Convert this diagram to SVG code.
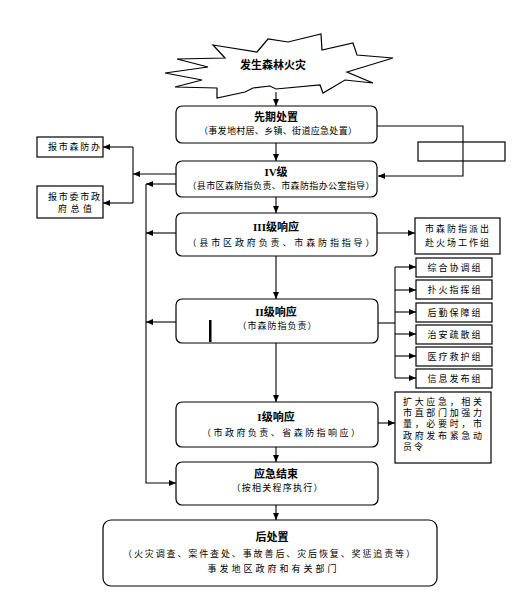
<svg xmlns="http://www.w3.org/2000/svg" width="522" height="609" viewBox="0 0 522 609">
<defs>
<marker id="ah" markerWidth="7" markerHeight="6" refX="7" refY="3" orient="auto" markerUnits="userSpaceOnUse">
<path d="M0,0 L7,3 L0,6 Z" fill="#000"/>
</marker>
<style>
.rb{fill:#fff;stroke:#000;stroke-width:1.2}
.sb{fill:#fff;stroke:#000;stroke-width:1.2}
.t{font-family:"Liberation Serif","Noto Sans CJK SC",serif;font-size:11px;font-weight:bold;text-anchor:middle;fill:#000}
.s{font-family:"Liberation Sans","Noto Sans CJK SC",sans-serif;font-size:9px;text-anchor:middle;fill:#000}
.l{font-family:"Liberation Sans","Noto Sans CJK SC",sans-serif;font-size:9px;fill:#000}
.c{fill:none;stroke:#000;stroke-width:1.1}
</style>
</defs>
<rect width="522" height="609" fill="#fff"/>

<g id="fire">
<polygon class="sb" points="177,59 208,67 165,73 202,80 175,87 217,88 217,98 245,92 253,88 270,86 276,89 320,85 323,93 345,80 373,83 347,72 393,58 357,55 353,43 322,50 321,34 288,42 268,39 257,52 213,45 225,58"/>
<text class="t" x="273" y="69">发生森林火灾</text>
</g>

<g id="xianqi">
<rect class="rb" x="176" y="106" width="201" height="37" rx="6"/>
<text class="t" x="276" y="121">先期处置</text>
<text class="s" x="278" y="134" textLength="158" lengthAdjust="spacing">（事发地村居、乡镇、街道应急处置）</text>
</g>

<g id="blank">
<rect class="sb" x="418" y="142" width="87" height="19"/>
</g>

<g id="iv">
<rect class="rb" x="176" y="161" width="201" height="36" rx="6"/>
<text class="t" x="276" y="176">IV级</text>
<text class="s" x="281" y="189" textLength="187" lengthAdjust="spacing">（县市区森防指负责、市森防指办公室指导）</text>
</g>

<g id="baofangban">
<rect class="sb" x="37" y="137" width="66" height="20"/>
<text class="s" x="74" y="150" textLength="52" lengthAdjust="spacing">报市森防办</text>
</g>

<g id="baozhizhi">
<rect class="sb" x="37" y="186" width="66" height="32"/>
<text class="s" x="74" y="200" textLength="52" lengthAdjust="spacing">报市委市政</text>
<text class="s" x="75" y="212" textLength="34" lengthAdjust="spacing">府总值</text>
</g>

<g id="iii">
<rect class="rb" x="176" y="213" width="201" height="43" rx="6"/>
<text class="t" x="276" y="231">III级响应</text>
<text class="s" x="281" y="246" textLength="187" lengthAdjust="spacing">（县市区政府负责、市森防指指导）</text>
</g>

<g id="gongzuozu">
<rect class="sb" x="415" y="218" width="85" height="36"/>
<text class="s" x="457" y="232" textLength="64" lengthAdjust="spacing">市森防指派出</text>
<text class="s" x="457" y="246" textLength="64" lengthAdjust="spacing">赴火场工作组</text>
</g>

<g id="g1"><rect class="sb" x="416" y="258" width="76" height="19"/><text class="s" x="454" y="271" textLength="53" lengthAdjust="spacing">综合协调组</text></g>
<g id="g2"><rect class="sb" x="416" y="280" width="76" height="19"/><text class="s" x="454" y="293" textLength="53" lengthAdjust="spacing">扑火指挥组</text></g>
<g id="g3"><rect class="sb" x="416" y="303" width="76" height="19"/><text class="s" x="454" y="316" textLength="53" lengthAdjust="spacing">后勤保障组</text></g>
<g id="g4"><rect class="sb" x="416" y="325" width="76" height="19"/><text class="s" x="454" y="338" textLength="53" lengthAdjust="spacing">治安疏散组</text></g>
<g id="g5"><rect class="sb" x="416" y="347" width="76" height="19"/><text class="s" x="454" y="360" textLength="53" lengthAdjust="spacing">医疗救护组</text></g>
<g id="g6"><rect class="sb" x="416" y="369" width="76" height="19"/><text class="s" x="454" y="382" textLength="53" lengthAdjust="spacing">信息发布组</text></g>

<g id="ii">
<rect class="rb" x="176" y="299" width="202" height="44" rx="6"/>
<text class="t" x="276" y="316">II级响应</text>
<text class="s" x="277" y="329" textLength="79" lengthAdjust="spacing">（市森防指负责）</text>
<rect x="209" y="320" width="2.5" height="22" fill="#000"/>
</g>

<g id="i">
<rect class="rb" x="176" y="402" width="202" height="45" rx="6"/>
<text class="t" x="276" y="421">I级响应</text>
<text class="s" x="281" y="436" textLength="158" lengthAdjust="spacing">（市政府负责、省森防指响应）</text>
</g>

<g id="kuoda">
<rect class="sb" x="395" y="392" width="96" height="71"/>
<text class="l" x="403" y="405" textLength="79" lengthAdjust="spacing">扩大应急，相关</text>
<text class="l" x="403" y="416" textLength="79" lengthAdjust="spacing">市直部门加强力</text>
<text class="l" x="403" y="427" textLength="79" lengthAdjust="spacing">量，必要时，市</text>
<text class="l" x="403" y="439" textLength="79" lengthAdjust="spacing">政府发布紧急动</text>
<text class="l" x="403" y="450" textLength="20" lengthAdjust="spacing">员令</text>
</g>

<g id="jieshu">
<rect class="rb" x="176" y="462" width="202" height="43" rx="6"/>
<text class="t" x="276" y="478">应急结束</text>
<text class="s" x="277" y="491" textLength="91" lengthAdjust="spacing">（按相关程序执行）</text>
</g>

<g id="houchuzhi">
<rect class="rb" x="103" y="520" width="334" height="66" rx="8"/>
<text class="t" x="272" y="541">后处置</text>
<text class="s" x="269" y="557" textLength="292" lengthAdjust="spacing">（火灾调查、案件查处、事故善后、灾后恢复、奖惩追责等）</text>
<text class="s" x="272" y="572" textLength="129" lengthAdjust="spacing">事发地区政府和有关部门</text>
</g>

<g id="connectors">
<line class="c" x1="276" y1="92" x2="276" y2="106" marker-end="url(#ah)"/>
<line class="c" x1="276" y1="143" x2="276" y2="161" marker-end="url(#ah)"/>
<line class="c" x1="276" y1="197" x2="276" y2="213" marker-end="url(#ah)"/>
<line class="c" x1="276" y1="256" x2="276" y2="299" marker-end="url(#ah)"/>
<line class="c" x1="276" y1="343" x2="276" y2="402" marker-end="url(#ah)"/>
<line class="c" x1="276" y1="447" x2="276" y2="462" marker-end="url(#ah)"/>
<line class="c" x1="276" y1="505" x2="276" y2="520" marker-end="url(#ah)"/>
<polyline class="c" points="377,126 463,126 463,176 378,176" marker-end="url(#ah)"/>
<line class="c" x1="176" y1="174" x2="133" y2="174" marker-end="url(#ah)"/>
<line class="c" x1="133" y1="147" x2="133" y2="203"/>
<line class="c" x1="133" y1="147" x2="103" y2="147" marker-end="url(#ah)"/>
<line class="c" x1="133" y1="203" x2="103" y2="203" marker-end="url(#ah)"/>
<line class="c" x1="176" y1="184" x2="146" y2="184" marker-end="url(#ah)"/>
<line class="c" x1="176" y1="233" x2="146" y2="233" marker-end="url(#ah)"/>
<line class="c" x1="176" y1="322" x2="146" y2="322" marker-end="url(#ah)"/>
<polyline class="c" points="146,184 146,483 176,483" marker-end="url(#ah)"/>
<line class="c" x1="377" y1="233" x2="415" y2="233" marker-end="url(#ah)"/>
<line class="c" x1="378" y1="323" x2="395" y2="323"/>
<line class="c" x1="395" y1="267" x2="395" y2="378"/>
<line class="c" x1="395" y1="267" x2="416" y2="267" marker-end="url(#ah)"/>
<line class="c" x1="395" y1="290" x2="416" y2="290" marker-end="url(#ah)"/>
<line class="c" x1="395" y1="312" x2="416" y2="312" marker-end="url(#ah)"/>
<line class="c" x1="395" y1="334" x2="416" y2="334" marker-end="url(#ah)"/>
<line class="c" x1="395" y1="356" x2="416" y2="356" marker-end="url(#ah)"/>
<line class="c" x1="395" y1="378" x2="416" y2="378" marker-end="url(#ah)"/>
<line class="c" x1="378" y1="423" x2="395" y2="423" marker-end="url(#ah)"/>
</g>
</svg>
